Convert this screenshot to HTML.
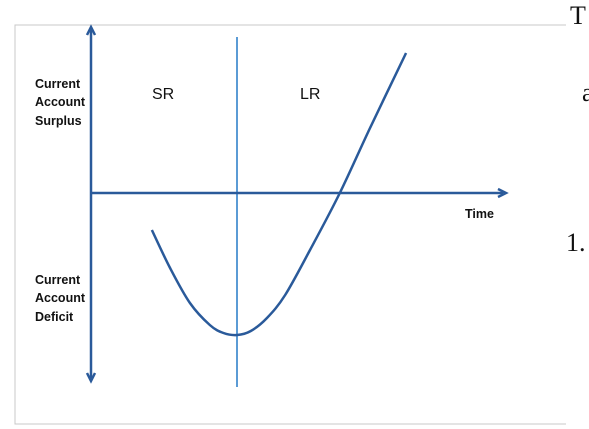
<!DOCTYPE html>
<html><head><meta charset="utf-8"><style>
body{margin:0;background:#fff;width:589px;height:429px;overflow:hidden}
svg{display:block}
</style></head><body>
<svg id="c" width="589" height="429" xmlns="http://www.w3.org/2000/svg">
<rect x="15" y="25" width="600" height="399" fill="#fff" stroke="#c8c8c8" stroke-width="1"/>
<rect x="566" y="0" width="23" height="429" fill="#fff"/>
<text x="570" y="24" font-family="Liberation Serif, serif" font-size="26" fill="#111">T</text>
<text x="582" y="101" font-family="Liberation Serif, serif" font-size="26" fill="#111">a</text>
<text x="566" y="251" font-family="Liberation Serif, serif" font-size="26" fill="#111">1.</text>
<g font-family="Liberation Sans, sans-serif" font-size="12.5" fill="#111" font-weight="bold">
<text x="35" y="88">Current</text>
<text x="35" y="106">Account</text>
<text x="35" y="125">Surplus</text>
<text x="35" y="284">Current</text>
<text x="35" y="302">Account</text>
<text x="35" y="321">Deficit</text>
<text x="465" y="218">Time</text>
</g>
<text x="152" y="99" font-family="Liberation Sans, sans-serif" font-size="16" fill="#111">SR</text>
<text x="300" y="99" font-family="Liberation Sans, sans-serif" font-size="16" fill="#111">LR</text>
<line x1="237" y1="37" x2="237" y2="387" stroke="#5b9bd5" stroke-width="2"/>
<g stroke="#2a5a9a" stroke-width="2.5" fill="#2a5a9a">
<line x1="91" y1="30" x2="91" y2="378"/>
<polyline points="87,35 91,27 95,35" fill="none"/>
<polyline points="87,373 91,381 95,373" fill="none"/>
<line x1="91" y1="193" x2="503" y2="193"/>
<polyline points="498,189 506,193 498,197" fill="none"/>
</g>
<path id="curve" fill="none" stroke="#2a5a9a" stroke-width="2.5"/>
</svg>
<script>
const times=[1.47,1.91,2.39,2.87,3.2,3.53,3.86,4.25,4.69,5.29,6.01,6.74,7.61];
const balance=[-3.7,-7.5,-11,-13.2,-14.0,-14.2,-13.8,-12.5,-10.2,-5.7,0,6.5,14];
function xS(t){return 91+t*41.4;}
function yS(v){return 193-v*10;}
const p=times.map((t,i)=>[xS(t),yS(balance[i])]);
let d='M'+p[0][0]+','+p[0][1];
for(let i=0;i<p.length-1;i++){
 const p0=p[i-1]||p[i],p1=p[i],p2=p[i+1],p3=p[i+2]||p2;
 const c1=[p1[0]+(p2[0]-p0[0])/6,p1[1]+(p2[1]-p0[1])/6];
 const c2=[p2[0]-(p3[0]-p1[0])/6,p2[1]-(p3[1]-p1[1])/6];
 d+=' C'+c1+' '+c2+' '+p2;
}
document.getElementById('curve').setAttribute('d',d);
</script>
</body></html>
